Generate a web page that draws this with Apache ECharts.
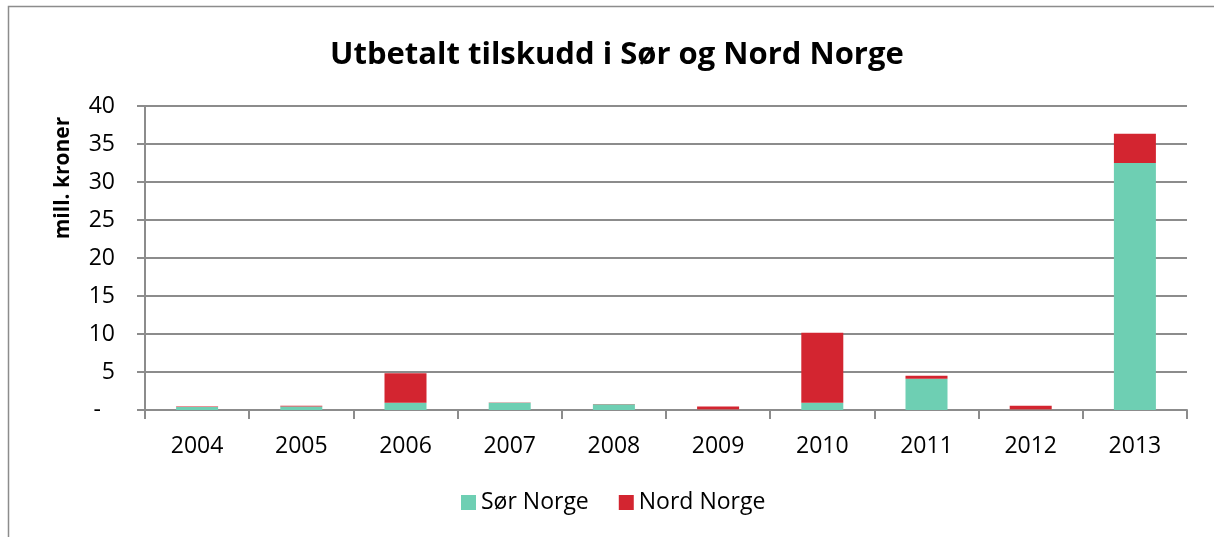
<!DOCTYPE html>
<html>
<head>
<meta charset="utf-8">
<script src="https://cdn.jsdelivr.net/npm/echarts@6/dist/echarts.min.js"></script>
<style>html,body{margin:0;padding:0;background:#fff}#c{width:1214px;height:537px}</style>
</head>
<body>
<div id="c"></div>
<script>
const years = ['2004','2005','2006','2007','2008','2009','2010','2011','2012','2013'];
const sorNorge = [0.4, 0.45, 0.95, 0.95, 0.75, 0.05, 0.95, 4.1, 0.05, 32.5];
const nordNorge = [0.05, 0.1, 3.9, 0.03, 0.05, 0.4, 9.2, 0.4, 0.5, 3.85];
const yTicks = [0, 5, 10, 15, 20, 25, 30, 35, 40];

const font = '"Open Sans", sans-serif';
const chart = echarts.init(document.getElementById('c'));
chart.setOption({
  animation: false,
  backgroundColor: '#fff',
  title: {
    text: 'Utbetalt tilskudd i Sør og Nord Norge',
    left: 325, top: 35,
    textStyle: {fontFamily: font, fontSize: 31, fontWeight: 'bold', color: '#000'}
  },
  graphic: [
    {type: 'rect', shape: {x: 8.5, y: 6.5, width: 1300, height: 700}, style: {fill: 'none', stroke: '#8c8c8c', lineWidth: 1.5}, z: -1},
    {type: 'text', x: 63, y: 178, rotation: Math.PI / 2,
     style: {text: 'mill. kroner', fontFamily: font, fontSize: 21, fontWeight: 'bold', fill: '#000', align: 'center', verticalAlign: 'middle'}}
  ],
  legend: {
    bottom: 18, left: 456, itemWidth: 15, itemHeight: 15, itemGap: 30,
    icon: 'rect',
    textStyle: {fontFamily: font, fontSize: 23, color: '#000'},
    data: ['Sør Norge', 'Nord Norge']
  },
  grid: {left: 145, right: 27, top: 106, bottom: 127},
  xAxis: {
    type: 'category', data: years,
    axisLine: {lineStyle: {color: '#8c8c8c', width: 2}},
    axisTick: {show: true, length: 9, alignWithLabel: false, lineStyle: {color: '#8c8c8c', width: 2}},
    axisLabel: {fontFamily: font, fontSize: 23, color: '#000', margin: 25}
  },
  yAxis: {
    type: 'value', min: 0, max: 40, interval: 5,
    axisLine: {show: true, lineStyle: {color: '#8c8c8c', width: 2}},
    axisTick: {show: true, length: 8, lineStyle: {color: '#8c8c8c', width: 2}},
    splitLine: {lineStyle: {color: '#8c8c8c', width: 2}},
    axisLabel: {
      fontFamily: font, fontSize: 23, color: '#000', margin: 30,
      formatter: v => yTicks.includes(v) ? (v === 0 ? '{d|-}' : String(v)) : '',
      rich: {d: {fontFamily: font, fontSize: 23, color: '#000', padding: [0, 14, 0, 0]}}
    }
  },
  series: [
    {name: 'Sør Norge', type: 'bar', stack: 'a', data: sorNorge, barWidth: 42,
     itemStyle: {color: '#6ecfb3'}},
    {name: 'Nord Norge', type: 'bar', stack: 'a', data: nordNorge, barWidth: 42,
     itemStyle: {color: '#d32530'}}
  ]
});
</script>
</body>
</html>
